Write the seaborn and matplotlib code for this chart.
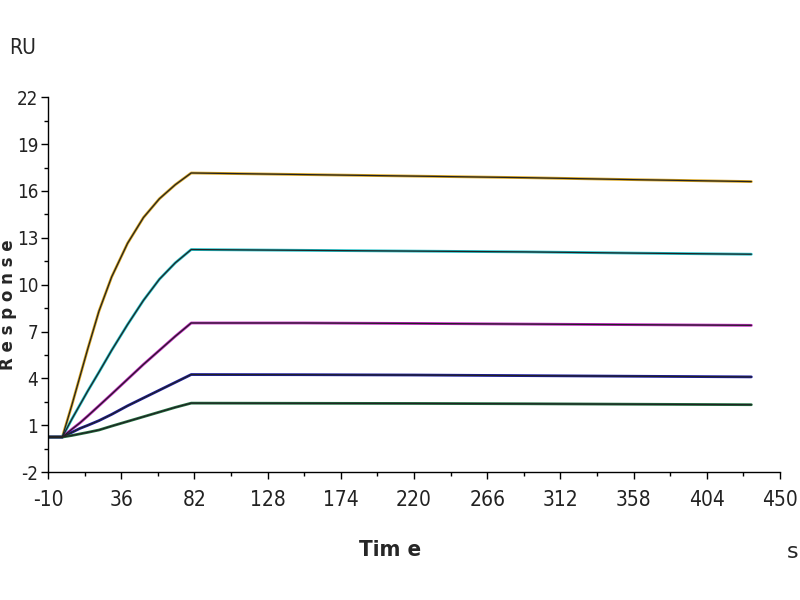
import numpy as np
import pandas as pd
import matplotlib
matplotlib.use("Agg")
import matplotlib.pyplot as plt
from matplotlib.ticker import MultipleLocator
import seaborn as sns

sns.set_theme(style="white")
plt.rcParams['font.family'] = ['DejaVu Sans']
plt.rcParams['axes.unicode_minus'] = False

# time points (s)
time = [-10, -1, 5, 10, 15, 22, 30, 40, 50, 60, 70, 80, 150, 220, 290, 360, 432]

# response (RU) per concentration
orange = [0.25, 0.25, 2.3, 4.1, 5.9, 8.3, 10.5, 12.65, 14.3, 15.5, 16.4, 17.15, 17.05, 16.95, 16.85, 16.72, 16.6]
cyan = [0.25, 0.25, 1.4, 2.3, 3.2, 4.4, 5.8, 7.45, 9.0, 10.35, 11.4, 12.25, 12.2, 12.15, 12.1, 12.02, 11.95]
magenta = [0.25, 0.25, 0.75, 1.15, 1.6, 2.25, 3.0, 3.95, 4.9, 5.8, 6.7, 7.55, 7.55, 7.52, 7.48, 7.44, 7.4]
blue = [0.25, 0.25, 0.55, 0.8, 1.0, 1.3, 1.7, 2.25, 2.75, 3.25, 3.75, 4.25, 4.24, 4.22, 4.18, 4.14, 4.1]
green = [0.25, 0.25, 0.35, 0.45, 0.55, 0.7, 0.95, 1.25, 1.55, 1.85, 2.15, 2.42, 2.41, 2.4, 2.38, 2.35, 2.32]

series = {"orange": orange, "cyan": cyan, "magenta": magenta, "blue": blue, "green": green}
colors = {"orange": "#d9a520", "cyan": "#20c0c8", "magenta": "#c020c0", "blue": "#1a1aa0", "green": "#207040"}

frames = []
for name, vals in series.items():
    frames.append(pd.DataFrame({"Time": time, "Response": vals, "conc": name}))
df = pd.concat(frames, ignore_index=True)

fig = plt.figure(figsize=(8, 6), dpi=100)
ax = fig.add_axes([0.06, 0.213, 0.915, 0.625])

# measured data (coloured) with fitted curve (black) on top
sns.lineplot(data=df, x="Time", y="Response", hue="conc", palette=colors,
             linewidth=2.0, legend=False, ax=ax, sort=False)
sns.lineplot(data=df, x="Time", y="Response", units="conc", estimator=None,
             color="#222222", linewidth=0.9, legend=False, ax=ax, sort=False)

ax.set_xlim(-10, 450)
ax.set_ylim(-2, 22)
ax.set_xticks(np.arange(-10, 451, 46))
ax.set_yticks(np.arange(-2, 23, 3))
ax.xaxis.set_minor_locator(MultipleLocator(23, offset=-10))
ax.yaxis.set_minor_locator(MultipleLocator(1.5, offset=-2))

for side in ["top", "right"]:
    ax.spines[side].set_visible(False)
for side in ["left", "bottom"]:
    ax.spines[side].set_color("black")
    ax.spines[side].set_linewidth(1.0)

ax.tick_params(which="major", direction="out", length=5, width=1, color="black",
               labelsize=13.5, left=True, bottom=True, pad=2)
ax.tick_params(which="minor", direction="out", length=3, width=1, color="black",
               left=True, bottom=True)
ax.tick_params(axis="x", pad=8, labelsize=15)
for lab in ax.get_xticklabels() + ax.get_yticklabels():
    lab.set_fontstretch("condensed")
    lab.set_color("#222222")

ax.set_xlabel("")
ax.set_ylabel("")
fig.text(0.028, 0.92, "RU", fontsize=15, ha="center", va="center", fontstretch="condensed")
fig.text(0.0095, 0.492, "R e s p o n s e", fontsize=12, fontweight="bold",
         rotation=90, ha="center", va="center")
fig.text(0.488, 0.083, "Tim e", fontsize=16, fontweight="bold", ha="center", va="center",
         fontstretch="condensed")
fig.text(0.991, 0.08, "s", fontsize=16, ha="center", va="center")

fig.savefig("out.png", dpi=100)
